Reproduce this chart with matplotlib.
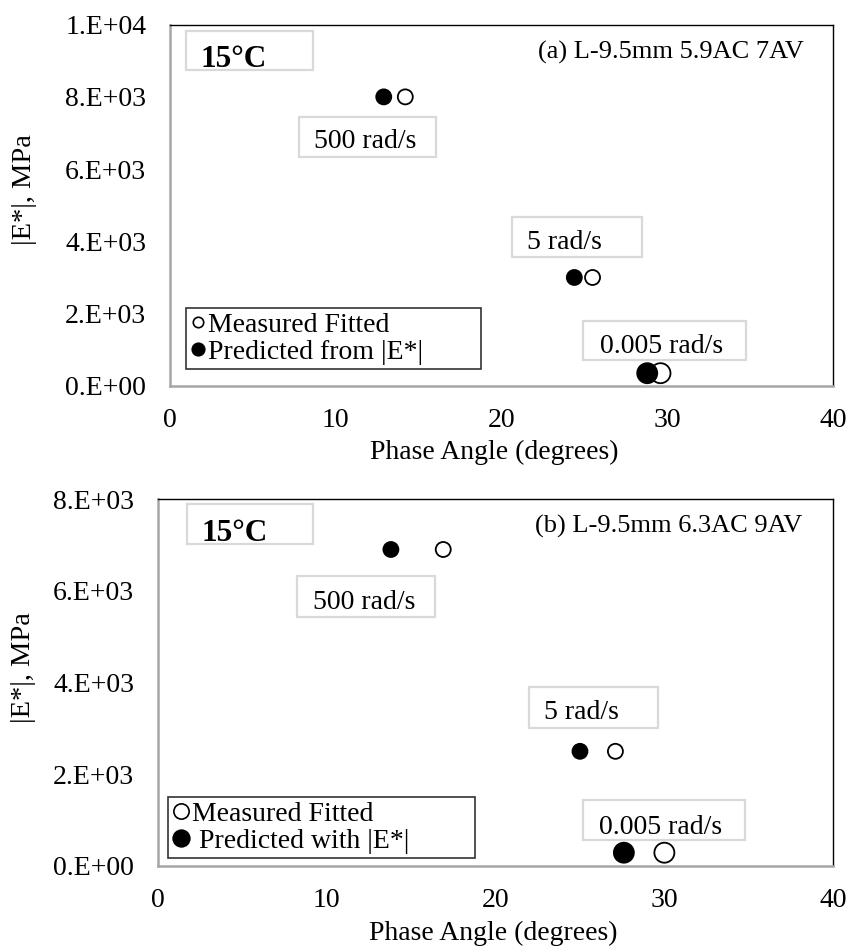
import matplotlib
matplotlib.use('Agg')
import matplotlib.pyplot as plt
from matplotlib.lines import Line2D
from matplotlib.patches import Rectangle
from matplotlib.ticker import FuncFormatter

plt.rcParams['font.family'] = ['Liberation Serif', 'DejaVu Serif']

# frequency order: 500, 5, 0.005 rad/s
freq_labels = ['500 rad/s', '5 rad/s', '0.005 rad/s']

# (a) L-9.5mm 5.9AC 7AV
a_meas_phase = [14.2, 25.5, 29.6]
a_meas_mod = [8000, 3000, 350]
a_pred_phase = [12.9, 24.4, 28.8]
a_pred_mod = [8000, 3000, 350]

# (b) L-9.5mm 6.3AC 9AV
b_meas_phase = [16.9, 27.1, 30.0]
b_meas_mod = [6900, 2500, 290]
b_pred_phase = [13.8, 25.0, 27.6]
b_pred_mod = [6900, 2500, 290]

GRAY_BOX = '#D9D9D9'
MARKER_PX = [15, 15, 20]   # the 0.005 rad/s markers are drawn larger


def sci_fmt(v, pos):
    s = f'{v:.0E}'
    mant, exp = s.split('E')
    return f'{mant}.E{exp[0]}{int(exp[1:]):02d}'


def gray_box(ax, x0, y0, x1, y1):
    ax.add_patch(Rectangle((x0, y0), x1 - x0, y1 - y0, transform=ax.transAxes,
                           fill=False, ec=GRAY_BOX, lw=1.6, zorder=2, clip_on=False))


def draw_panel(ax, meas_x, meas_y, pred_x, pred_y, ymax, tag, pred_label,
               boxes, temp_box, temp_txt, tag_xy, leg_box, leg_ms, leg_pad,
               ylab_xy, xlab_xy):
    sizes = [(p * 0.72) ** 2 for p in MARKER_PX]
    ax.scatter(meas_x, meas_y, s=sizes, facecolor='white', edgecolor='black',
               lw=1.3, zorder=4)
    ax.scatter(pred_x, pred_y, s=sizes, facecolor='black', edgecolor='black',
               lw=1.3, zorder=5)

    ax.set_xlim(0, 40)
    ax.set_ylim(0, ymax)
    ax.set_xticks([0, 10, 20, 30, 40])
    ax.set_yticks(range(0, ymax + 1, 2000))
    ax.yaxis.set_major_formatter(FuncFormatter(sci_fmt))
    ax.tick_params(axis='both', length=0, labelsize=20)
    ax.tick_params(axis='x', pad=16)
    ax.tick_params(axis='y', pad=17)

    for side in ('top', 'right'):
        ax.spines[side].set_color('black')
        ax.spines[side].set_linewidth(1.0)
    for side in ('left', 'bottom'):
        ax.spines[side].set_color('#A6A6A6')
        ax.spines[side].set_linewidth(1.8)

    ax.set_ylabel('|E*|, MPa', fontsize=20.5, va='center')
    ax.yaxis.set_label_coords(*ylab_xy)
    ax.set_xlabel('Phase Angle (degrees)', fontsize=20, va='center')
    ax.xaxis.set_label_coords(*xlab_xy)

    # temperature box
    gray_box(ax, *temp_box)
    ax.text(temp_txt[0], temp_txt[1], '15°C', transform=ax.transAxes,
            fontsize=22.5, fontweight='bold', ha='left', va='center', zorder=6)
    ax.text(tag_xy[0], tag_xy[1], tag, transform=ax.transAxes,
            fontsize=19, ha='right', va='center')

    # frequency label boxes
    for label, (bx, tx) in zip(freq_labels, boxes):
        gray_box(ax, *bx)
        ax.text(tx[0], tx[1], label, transform=ax.transAxes,
                fontsize=20, ha='center', va='center', zorder=6)

    handles = [
        Line2D([], [], ls='none', marker='o', ms=leg_ms[0], mfc='white', mec='black', mew=1.2),
        Line2D([], [], ls='none', marker='o', ms=leg_ms[1], mfc='black', mec='black', mew=1.2),
    ]
    leg = ax.legend(handles, ['Measured Fitted', pred_label], loc='lower left',
                    bbox_to_anchor=leg_box, mode='expand', borderaxespad=0,
                    fontsize=20, frameon=True, fancybox=False, handlelength=0.6,
                    handletextpad=leg_pad, borderpad=0.15, labelspacing=0.05)
    leg.get_frame().set_edgecolor('black')
    leg.get_frame().set_linewidth(1.2)


fig = plt.figure(figsize=(8.52, 9.48), dpi=100)
ax_a = fig.add_axes([0.1995, 0.593, 0.778, 0.381])
ax_b = fig.add_axes([0.1854, 0.0865, 0.7925, 0.3871])

draw_panel(
    ax_a, a_meas_phase, a_meas_mod, a_pred_phase, a_pred_mod, 10000,
    '(a) L-9.5mm 5.9AC 7AV', 'Predicted from |E*|',
    boxes=[((0.195, 0.634, 0.401, 0.745), (0.295, 0.676)),
           ((0.516, 0.357, 0.712, 0.468), (0.595, 0.396)),
           ((0.623, 0.072, 0.869, 0.180), (0.741, 0.108))],
    temp_box=(0.024, 0.875, 0.216, 0.983), temp_txt=(0.046, 0.903),
    tag_xy=(0.956, 0.922), leg_box=(0.024, 0.047, 0.445, 0.17),
    leg_ms=(7.5, 9), leg_pad=0.05,
    ylab_xy=(-0.219, 0.543), xlab_xy=(0.489, -0.183),
)

draw_panel(
    ax_b, b_meas_phase, b_meas_mod, b_pred_phase, b_pred_mod, 8000,
    '(b) L-9.5mm 6.3AC 9AV', ' Predicted with |E*|',
    boxes=[((0.206, 0.678, 0.410, 0.790), (0.305, 0.719)),
           ((0.549, 0.376, 0.741, 0.488), (0.627, 0.417)),
           ((0.629, 0.071, 0.870, 0.180), (0.745, 0.106))],
    temp_box=(0.043, 0.877, 0.229, 0.986), temp_txt=(0.065, 0.905),
    tag_xy=(0.954, 0.924), leg_box=(0.015, 0.022, 0.454, 0.18),
    leg_ms=(11, 12), leg_pad=0.1,
    ylab_xy=(-0.199, 0.542), xlab_xy=(0.497, -0.183),
)

fig.savefig('out.png', dpi=100)
